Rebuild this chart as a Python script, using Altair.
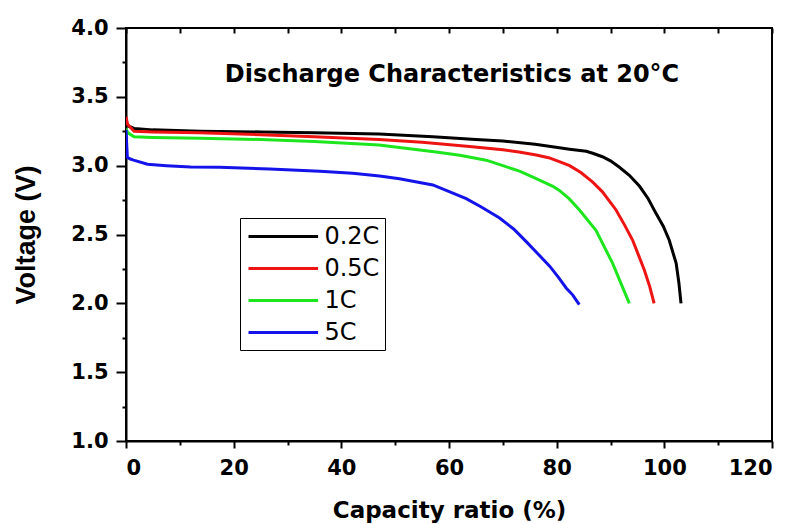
import altair as alt
import pandas as pd

# ---- data ----
series_names = ["0.2C", "0.5C", "1C", "5C"]
series_colors = ["#000000", "#ee1414", "#1ee61e", "#1414ea"]

cap_02 = [0, 0.3, 1.5, 5, 13.7, 25, 35, 47, 57, 65, 70, 76, 80.5, 82.4, 85.5, 86.7, 88.5, 90,
          91.6, 93.5, 95.4, 97, 98.5, 99.8, 100.9, 102.2, 102.7, 103.1]
v_02 = [3.31, 3.29, 3.27, 3.26, 3.25, 3.245, 3.24, 3.23, 3.21, 3.19, 3.18, 3.155, 3.13, 3.12,
        3.105, 3.09, 3.065, 3.035, 2.99, 2.93, 2.85, 2.76, 2.65, 2.56, 2.46, 2.29, 2.15, 2.0]

cap_05 = [0, 0.3, 1.5, 5, 13.7, 25, 35, 47, 55, 63.8, 70, 73, 76.2, 78.5, 80.5, 82.4, 84.5,
          86.7, 88.5, 91.0, 92.6, 94.1, 95.2, 96.3, 97.3, 98.1]
v_05 = [3.355, 3.30, 3.25, 3.245, 3.24, 3.225, 3.21, 3.19, 3.17, 3.14, 3.115, 3.10, 3.078,
        3.058, 3.03, 3.00, 2.95, 2.88, 2.81, 2.68, 2.57, 2.46, 2.35, 2.24, 2.12, 2.0]

cap_1 = [0, 0.3, 1.5, 5, 13.7, 25, 35, 47, 57.6, 62, 66.9, 70, 73.1, 76, 79.3, 80.5, 82.3, 84.2,
         87.3, 90.4, 92.0, 93.5]
v_1 = [3.27, 3.24, 3.21, 3.205, 3.20, 3.19, 3.175, 3.15, 3.10, 3.075, 3.04, 3.00, 2.96, 2.91,
       2.85, 2.82, 2.76, 2.68, 2.53, 2.29, 2.14, 2.0]

cap_5 = [0, 0.25, 0.7, 1.4, 4, 7.5, 12, 17.4, 26.7, 36, 42.1, 47.1, 50.8, 57.0, 63.2, 66, 69.4,
         72, 74.3, 76.5, 78.7, 80.3, 81.8, 83, 84.2]
v_5 = [3.26, 3.06, 3.05, 3.04, 3.01, 3.0, 2.99, 2.988, 2.975, 2.96, 2.945, 2.925, 2.905, 2.86,
       2.76, 2.70, 2.62, 2.54, 2.45, 2.36, 2.27, 2.19, 2.11, 2.06, 1.99]

x_ticks = list(range(0, 121, 10))
y_ticks = [1.0 + 0.25 * i for i in range(13)]
title_text = "Discharge Characteristics at 20°C"

rows = []
for name, xs, ys in zip(series_names, [cap_02, cap_05, cap_1, cap_5], [v_02, v_05, v_1, v_5]):
    for x, y in zip(xs, ys):
        rows.append({"series": name, "cap": x, "v": y})
df = pd.DataFrame(rows)

WIDE = "DejaVu Sans"
ARIAL = "Liberation Sans"

x_scale = alt.Scale(domain=[0, 120], nice=False, zero=False)
y_scale = alt.Scale(domain=[1.0, 4.0], nice=False, zero=False)

x_axis = alt.Axis(
    values=x_ticks, format="d",
    labelExpr="datum.value % 20 === 0 ? datum.label : ''",
    tickSize={"condition": {"test": "datum.value % 20 === 0", "value": 7}, "value": 4},
    tickColor="black", tickWidth=2, domainColor="black", domainWidth=2, grid=False,
    labelFont=WIDE, labelFontWeight="bold", labelFontSize=21, labelColor="black", labelPadding=9,
    title="Capacity ratio (%)", titleFont=WIDE, titleFontWeight="bold", titleFontSize=23,
    titleColor="black", titlePadding=21,
)
y_axis = alt.Axis(
    values=y_ticks, format=".1f",
    labelExpr="(datum.value * 2) % 1 === 0 ? datum.label : ''",
    tickSize={"condition": {"test": "(datum.value * 2) % 1 === 0", "value": 10}, "value": 4},
    tickColor="black", tickWidth=2, domainColor="black", domainWidth=2, grid=False,
    labelFont=WIDE, labelFontWeight="bold", labelFontSize=21, labelColor="black", labelPadding=8,
    title="Voltage (V)", titleFont=ARIAL, titleFontWeight="bold", titleFontSize=27,
    titleColor="black", titlePadding=30,
)

lines = alt.Chart(df).mark_line(strokeWidth=3, clip=True).encode(
    x=alt.X("cap:Q", scale=x_scale, axis=x_axis),
    y=alt.Y("v:Q", scale=y_scale, axis=y_axis),
    color=alt.Color(
        "series:N",
        scale=alt.Scale(domain=series_names, range=series_colors),
        legend=alt.Legend(
            orient="none", legendX=114, legendY=190, title=None,
            symbolType="M-2.9,0H2.9", symbolSize=576, symbolStrokeWidth=3,
            symbolFillColor="transparent", symbolOffset=24.8,
            labelFont=WIDE, labelFontSize=24, labelColor="black", labelOffset=27.6,
            strokeColor="black", fillColor="white", padding=5, rowPadding=6,
        ),
    ),
    detail="series:N",
)

top_ticks = alt.Chart(df).mark_point(opacity=0).encode(
    x=alt.X("cap:Q", scale=x_scale, axis=alt.Axis(
        orient="top", values=x_ticks, labels=False, domain=False, title=None,
        tickSize=5, tickWidth=2, tickColor="black", offset=-5, grid=False)),
)

title_df = pd.DataFrame({"t": [title_text]})
title = alt.Chart(title_df).mark_text(
    font=WIDE, fontWeight="bold", fontSize=24, color="black", align="center", baseline="middle"
).encode(text="t:N", x=alt.value(326), y=alt.value(47))

chart = alt.layer(lines, top_ticks, title).resolve_axis(x="independent").properties(
    width=646, height=413,
    autosize=alt.AutoSizeParams(type="none"),
    padding={"left": 118, "top": 20, "right": 20, "bottom": 85},
    background="white",
).configure_view(stroke="black", strokeWidth=2)

chart.save("out.html", embed_options={"renderer": "svg", "actions": False})
